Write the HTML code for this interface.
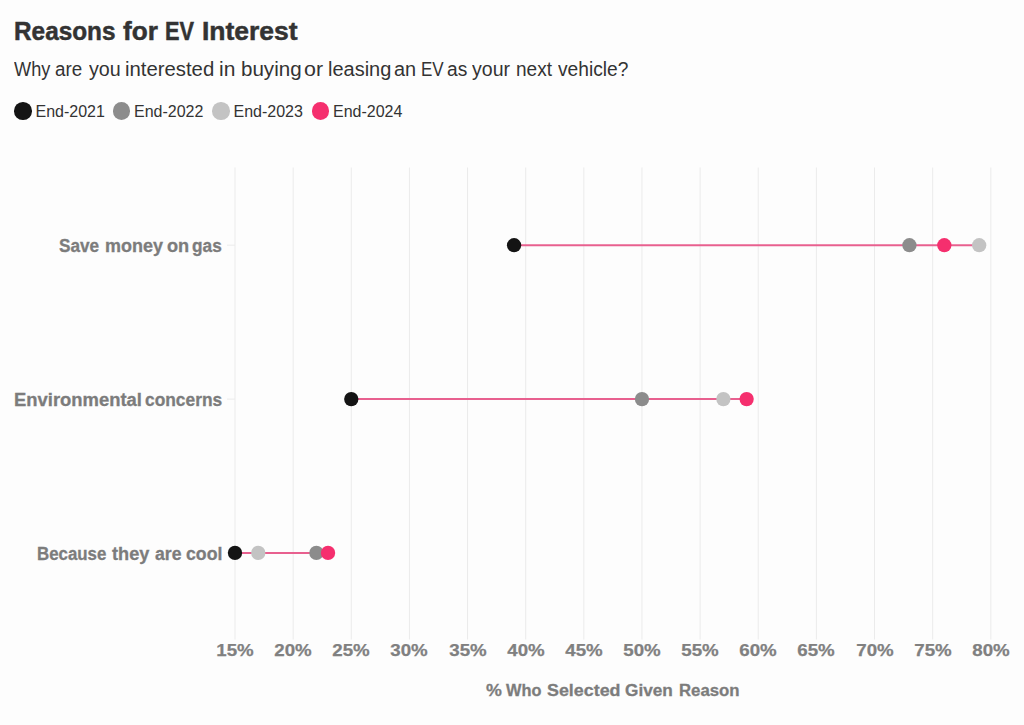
<!DOCTYPE html>
<html>
<head>
<meta charset="utf-8">
<style>
html,body{margin:0;padding:0;background:#fdfdfd;}
body{width:1024px;height:725px;position:relative;overflow:hidden;font-family:"Liberation Sans",Arial,sans-serif;}
.t{position:absolute;white-space:nowrap;line-height:1;}
#title{left:0;top:17.6px;font-size:26.5px;font-weight:bold;color:#333;-webkit-text-stroke:0.5px #333;}
#title span{position:absolute;top:0;transform-origin:0 0;}
#sub{left:0;top:58.7px;font-size:20px;color:#333;}
#sub span{position:absolute;top:0;transform-origin:0 0;}
.leg{position:absolute;top:102px;height:17.5px;}
.leg i{position:absolute;left:0;top:0;width:17.5px;height:17.5px;border-radius:50%;}
.leg span{position:absolute;left:21.5px;top:2px;font-size:16px;color:#333;white-space:nowrap;line-height:1;}
.row{position:absolute;left:0;font-size:18px;font-weight:bold;color:#7c7c7c;-webkit-text-stroke:0.3px #7c7c7c;white-space:nowrap;line-height:1;}
.row span,#axt span{position:absolute;top:0;transform-origin:0 0;}
.ax{position:absolute;top:642px;font-size:17px;transform:scaleX(1.1);font-weight:bold;color:#808080;-webkit-text-stroke:0.25px #808080;width:60px;text-align:center;line-height:1;}
#axt{left:0;top:682px;font-size:17.4px;font-weight:bold;color:#7c7c7c;-webkit-text-stroke:0.3px #7c7c7c;}
svg{position:absolute;left:0;top:0;}
</style>
</head>
<body>
<div class="t" id="title"><span style="left:14.08px;transform:scaleX(0.9193)">Reasons</span> <span style="left:123.4px;transform:scaleX(0.9886)">for</span> <span style="left:165.38px;transform:scaleX(0.82)">EV</span> <span style="left:202.1px;transform:scaleX(0.9989)">Interest</span></div>
<div class="t" id="sub"><span style="left:14.1px;transform:scaleX(0.9075)">Why</span> <span style="left:55.36px;transform:scaleX(0.9407)">are</span> <span style="left:88.5px;transform:scaleX(0.9839)">you</span> <span style="left:125.38px;transform:scaleX(1.0157)">interested</span> <span style="left:218.55px;transform:scaleX(1.05)">in</span> <span style="left:240.67px;transform:scaleX(1.0281)">buying</span> <span style="left:303.93px;transform:scaleX(1.0706)">or</span> <span style="left:327.8px;transform:scaleX(0.9984)">leasing</span> <span style="left:394.0px;transform:scaleX(0.995)">an</span> <span style="left:420.7px;transform:scaleX(0.852)">EV</span> <span style="left:447.44px;transform:scaleX(0.9579)">as</span> <span style="left:471.8px;transform:scaleX(0.9769)">your</span> <span style="left:516.05px;transform:scaleX(0.9514)">next</span> <span style="left:557.5px;transform:scaleX(0.9589)">vehicle?</span></div>

<div class="leg" id="l1" style="left:14px"><i style="background:#141414"></i><span id="l1t">End-2021</span></div>
<div class="leg" id="l2" style="left:112.5px"><i style="background:#8c8c8c"></i><span id="l2t">End-2022</span></div>
<div class="leg" id="l3" style="left:212px"><i style="background:#c3c3c3"></i><span id="l3t">End-2023</span></div>
<div class="leg" id="l4" style="left:311.5px"><i style="background:#f52f6e"></i><span id="l4t">End-2024</span></div>

<svg width="1024" height="725" viewBox="0 0 1024 725">
  <g stroke="#ebebeb" stroke-width="1">
    <line x1="235.0" y1="167.5" x2="235.0" y2="639.5"/>
    <line x1="293.14" y1="167.5" x2="293.14" y2="639.5"/>
    <line x1="351.28" y1="167.5" x2="351.28" y2="639.5"/>
    <line x1="409.42" y1="167.5" x2="409.42" y2="639.5"/>
    <line x1="467.56" y1="167.5" x2="467.56" y2="639.5"/>
    <line x1="525.7" y1="167.5" x2="525.7" y2="639.5"/>
    <line x1="583.84" y1="167.5" x2="583.84" y2="639.5"/>
    <line x1="641.98" y1="167.5" x2="641.98" y2="639.5"/>
    <line x1="700.12" y1="167.5" x2="700.12" y2="639.5"/>
    <line x1="758.26" y1="167.5" x2="758.26" y2="639.5"/>
    <line x1="816.4" y1="167.5" x2="816.4" y2="639.5"/>
    <line x1="874.54" y1="167.5" x2="874.54" y2="639.5"/>
    <line x1="932.68" y1="167.5" x2="932.68" y2="639.5"/>
    <line x1="990.82" y1="167.5" x2="990.82" y2="639.5"/>
    <line x1="227" y1="245.2" x2="235" y2="245.2"/>
    <line x1="227" y1="399.1" x2="235" y2="399.1"/>
    <line x1="227" y1="552.9" x2="235" y2="552.9"/>
  </g>
  <g stroke="#e8608f" stroke-width="2">
    <line x1="514.07" y1="245.2" x2="979.19" y2="245.2"/>
    <line x1="351.28" y1="399.1" x2="746.63" y2="399.1"/>
    <line x1="235.0" y1="552.9" x2="328.02" y2="552.9"/>
  </g>
  <g>
    <circle cx="514.07" cy="245.2" r="7.15" fill="#141414"/>
    <circle cx="909.42" cy="245.2" r="7.15" fill="#8c8c8c"/>
    <circle cx="979.19" cy="245.2" r="7.15" fill="#c3c3c3"/>
    <circle cx="944.31" cy="245.2" r="7.15" fill="#f52f6e"/>
    <circle cx="351.28" cy="399.1" r="7.15" fill="#141414"/>
    <circle cx="641.98" cy="399.1" r="7.15" fill="#8c8c8c"/>
    <circle cx="723.38" cy="399.1" r="7.15" fill="#c3c3c3"/>
    <circle cx="746.63" cy="399.1" r="7.15" fill="#f52f6e"/>
    <circle cx="235.0" cy="552.9" r="7.15" fill="#141414"/>
    <circle cx="316.4" cy="552.9" r="7.15" fill="#8c8c8c"/>
    <circle cx="258.26" cy="552.9" r="7.15" fill="#c3c3c3"/>
    <circle cx="328.02" cy="552.9" r="7.15" fill="#f52f6e"/>
  </g>
</svg>

<div class="row" id="r1" style="top:237px"><span style="left:59.35px;transform:scaleX(0.9537)">Save</span> <span style="left:104.5px;transform:scaleX(0.9982)">money</span> <span style="left:166.69px;transform:scaleX(1.01)">on</span> <span style="left:192.24px;transform:scaleX(0.9586)">gas</span></div>
<div class="row" id="r2" style="top:391px"><span style="left:13.98px;transform:scaleX(1.0228)">Environmental</span> <span style="left:145.04px;transform:scaleX(0.9647)">concerns</span></div>
<div class="row" id="r3" style="top:545px"><span style="left:37.46px;transform:scaleX(0.937)">Because</span> <span style="left:112.1px;transform:scaleX(1.0081)">they</span> <span style="left:154.8px;transform:scaleX(0.9778)">are</span> <span style="left:185.52px;transform:scaleX(0.9829)">cool</span></div>

<div class="ax" id="a15" style="left:205.0px">15%</div>
<div class="ax" style="left:263.14px">20%</div>
<div class="ax" style="left:321.28px">25%</div>
<div class="ax" style="left:379.42px">30%</div>
<div class="ax" style="left:437.56px">35%</div>
<div class="ax" style="left:495.7px">40%</div>
<div class="ax" style="left:553.84px">45%</div>
<div class="ax" style="left:611.98px">50%</div>
<div class="ax" style="left:670.12px">55%</div>
<div class="ax" style="left:728.26px">60%</div>
<div class="ax" style="left:786.4px">65%</div>
<div class="ax" style="left:844.54px">70%</div>
<div class="ax" style="left:902.68px">75%</div>
<div class="ax" id="a80" style="left:960.82px">80%</div>

<div class="t" id="axt"><span style="left:486.2px;transform:scaleX(1.0267)">%</span> <span style="left:506.0px;transform:scaleX(0.9405)">Who</span> <span style="left:547.37px;transform:scaleX(1.0271)">Selected</span> <span style="left:624.71px;transform:scaleX(0.9894)">Given</span> <span style="left:679.44px;transform:scaleX(0.9639)">Reason</span></div>
</body>
</html>
